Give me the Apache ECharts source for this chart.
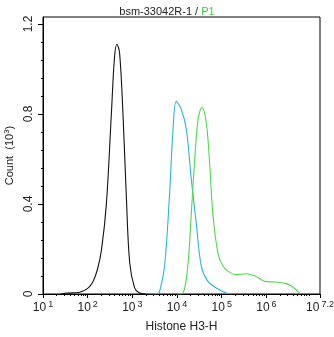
<!DOCTYPE html>
<html><head><meta charset="utf-8">
<script src="https://cdn.jsdelivr.net/npm/echarts@6/dist/echarts.min.js"></script>
<style>html,body{margin:0;padding:0;background:#fff}#c{width:334px;height:337px}</style>
</head><body><div id="c"></div>
<script>
// x values are log10(Histone H3-H intensity), y values are Count (10^3)
const blackX = [1.40, 1.55, 1.82, 2.00, 2.12, 2.22, 2.31, 2.42, 2.53, 2.60, 2.655, 2.715, 2.79, 2.866, 2.94, 3.05, 3.15, 3.30];
const blackY = [0.000, 0.004, 0.008, 0.025, 0.056, 0.110, 0.197, 0.404, 0.800, 1.050, 1.110, 1.070, 0.800, 0.430, 0.140, 0.027, 0.006, 0.000];
const blueX = [3.45, 3.573, 3.61, 3.72, 3.83, 3.91, 3.984, 4.096, 4.21, 4.32, 4.43, 4.544, 4.69, 4.88, 5.10, 5.22];
const blueY = [0.000, 0.002, 0.010, 0.123, 0.434, 0.730, 0.856, 0.820, 0.730, 0.508, 0.315, 0.123, 0.056, 0.027, 0.004, 0.000];
const greenX = [4.00, 4.13, 4.24, 4.32, 4.39, 4.47, 4.557, 4.655, 4.73, 4.80, 4.915, 5.03, 5.18, 5.33, 5.55, 5.77, 5.96, 6.22, 6.445, 6.59, 6.74];
const greenY = [0.000, 0.004, 0.123, 0.360, 0.580, 0.775, 0.830, 0.760, 0.580, 0.360, 0.182, 0.123, 0.096, 0.086, 0.090, 0.078, 0.056, 0.053, 0.046, 0.031, 0.004];
const xMajorTicks = [1, 2, 3, 4, 5, 6, 7, 7.2];
const yMajorTicks = [0, 0.4, 0.8, 1.2];
const titleMain = 'bsm-33042R-1 / ';
const titleGate = 'P1';
const xName = 'Histone H3-H';

const xMinor = [];
for (let n = 1; n <= 6; n++) for (let k = 2; k <= 9; k++) xMinor.push(n + Math.log10(k));
const yMinor = [];
for (let i = 1; i <= 15; i++) { const v = +(i * 0.08).toFixed(2); if (Math.abs(v / 0.4 - Math.round(v / 0.4)) > 1e-6) yMinor.push(v); }

const pairs = (xs, ys) => xs.map((x, i) => [x, ys[i]]);
const FONT = 'Liberation Sans';
const TXT = '#222';
const chart = echarts.init(document.getElementById('c'), null, {renderer: 'canvas'});
const gridOpt = {left: 43, right: 14, top: 17, bottom: 43, show: true, borderColor: '#000', borderWidth: 1,
  containLabel: false, outerBoundsMode: 'none'};
chart.setOption({
  animation: false,
  backgroundColor: '#fff',
  title: {
    text: '{a|' + titleMain + '}{b|' + titleGate + '}',
    left: 'center', top: 1,
    textStyle: {fontWeight: 'normal', rich: {
      a: {fontFamily: FONT, fontSize: 11, color: TXT, fontWeight: 'normal'},
      b: {fontFamily: FONT, fontSize: 11, color: '#3ccf3c', fontWeight: 'normal'}
    }}
  },
  grid: gridOpt,
  xAxis: [{
    type: 'value', min: 1, max: 7.2, gridIndex: 0,
    name: xName, nameLocation: 'middle', nameGap: 27,
    nameTextStyle: {fontFamily: FONT, fontSize: 12, color: TXT},
    splitLine: {show: false},
    axisLine: {show: true, lineStyle: {color: '#000', width: 1}},
    axisTick: {show: true, length: 4, inside: false, customValues: xMajorTicks, lineStyle: {color: '#000'}},
    axisLabel: {
      show: true, margin: 6, customValues: xMajorTicks, showMinLabel: true, showMaxLabel: true,
      formatter: v => '{b|10}{s| }{e|' + (Number.isInteger(v) ? v : v.toFixed(1)) + '}',
      rich: {
        b: {fontFamily: FONT, fontSize: 12, color: TXT},
        s: {fontSize: 4, width: 2},
        e: {fontFamily: FONT, fontSize: 9, color: TXT, verticalAlign: 'top', padding: [0, 0, 7, 0]}
      }
    }
  }, {
    type: 'value', min: 1, max: 7.2, gridIndex: 0, position: 'bottom',
    splitLine: {show: false},
    axisLine: {show: false},
    axisLabel: {show: false},
    axisTick: {show: true, length: 2, customValues: xMinor, lineStyle: {color: '#000'}}
  }],
  yAxis: [{
    type: 'value', min: 0, max: 1.231, gridIndex: 0,
    name: '{a|Count  (10}{e|3}{a|)}', nameLocation: 'middle', nameGap: 25, nameRotate: 90,
    nameTextStyle: {rich: {
      a: {fontFamily: FONT, fontSize: 11, color: TXT},
      e: {fontFamily: FONT, fontSize: 8, color: TXT, verticalAlign: 'top', padding: [0, 0, 6, 0]}
    }},
    splitLine: {show: false},
    axisLine: {show: true, lineStyle: {color: '#000', width: 1}},
    axisTick: {show: true, length: 5, customValues: yMajorTicks, lineStyle: {color: '#000'}},
    axisLabel: {show: true, rotate: 90, margin: 8, customValues: yMajorTicks,
      fontFamily: FONT, fontSize: 12, color: TXT, formatter: v => String(v)}
  }, {
    type: 'value', min: 0, max: 1.231, gridIndex: 0, position: 'left',
    splitLine: {show: false},
    axisLine: {show: false},
    axisLabel: {show: false},
    axisTick: {show: true, length: 2, customValues: yMinor, lineStyle: {color: '#000'}}
  }],
  series: [
    {type: 'line', data: pairs(blackX, blackY), smooth: 0.35, showSymbol: false, lineStyle: {color: '#111', width: 1.1}, z: 3},
    {type: 'line', data: pairs(blueX, blueY), smooth: 0.35, showSymbol: false, lineStyle: {color: '#2cb3e0', width: 1.1}, z: 3},
    {type: 'line', data: pairs(greenX, greenY), smooth: 0.35, showSymbol: false, lineStyle: {color: '#4fd84f', width: 1.1}, z: 3}
  ]
});
</script>
</body></html>
